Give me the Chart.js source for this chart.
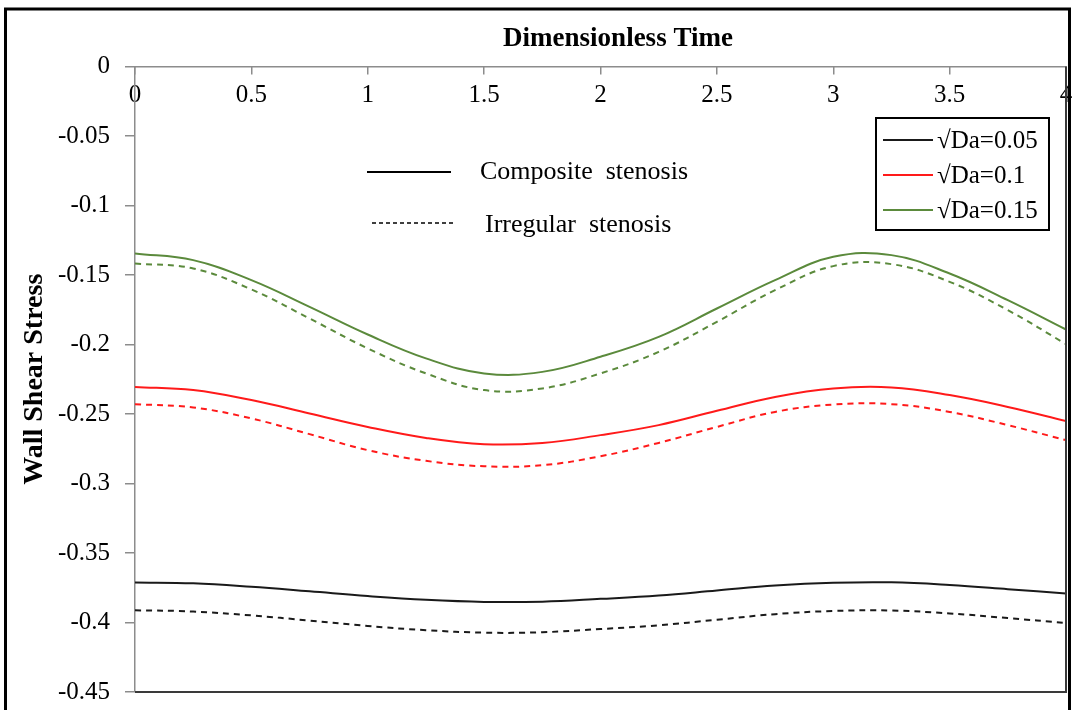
<!DOCTYPE html>
<html>
<head>
<meta charset="utf-8">
<script src="https://cdn.jsdelivr.net/npm/chart.js@4.4.1/dist/chart.umd.min.js"></script>
<style>
  html, body { margin: 0; padding: 0; background: #fff; }
  canvas { display: block; }
</style>
</head>
<body>
<canvas id="wssChart" width="1073" height="710"></canvas>
<script>
// dimensionless time samples
const timeValues = [0, 0.25, 0.5, 0.75, 1, 1.25, 1.5, 1.75, 2, 2.25, 2.5, 2.75, 3, 3.25, 3.5, 3.75, 4];

// wall shear stress, composite stenosis (solid)
const compositeDa005 = [-0.3712, -0.3718, -0.3743, -0.3776, -0.3810, -0.3837, -0.3852, -0.3850, -0.3830, -0.3806, -0.3770, -0.3734, -0.3714, -0.3711, -0.3730, -0.3760, -0.3792];
const compositeDa01  = [-0.2305, -0.2328, -0.2400, -0.2496, -0.2593, -0.2672, -0.2717, -0.2708, -0.2652, -0.2580, -0.2477, -0.2377, -0.2316, -0.2309, -0.2364, -0.2449, -0.2550];
const compositeDa015 = [-0.1345, -0.1393, -0.1537, -0.1729, -0.1928, -0.2100, -0.2208, -0.2197, -0.2088, -0.1945, -0.1741, -0.1537, -0.1369, -0.1357, -0.1489, -0.1681, -0.1892];

// wall shear stress, irregular stenosis (dashed)
const irregularDa005 = [-0.3912, -0.3921, -0.3949, -0.3986, -0.4025, -0.4055, -0.4073, -0.4070, -0.4047, -0.4020, -0.3980, -0.3940, -0.3917, -0.3914, -0.3935, -0.3968, -0.4003];
const irregularDa01  = [-0.2429, -0.2453, -0.2532, -0.2645, -0.2760, -0.2837, -0.2876, -0.2868, -0.2804, -0.2708, -0.2593, -0.2485, -0.2432, -0.2429, -0.2485, -0.2580, -0.2688];
const irregularDa015 = [-0.1417, -0.1453, -0.1604, -0.1813, -0.2028, -0.2208, -0.2328, -0.2316, -0.2208, -0.2053, -0.1837, -0.1609, -0.1436, -0.1422, -0.1549, -0.1753, -0.1997];

const seriesLabels = ['\u221ADa=0.05', '\u221ADa=0.1', '\u221ADa=0.15'];
const seriesColors = ['#1a1a1a', '#ff1a1a', '#5b8a3c'];
const xTickLabels = ['0', '0.5', '1', '1.5', '2', '2.5', '3', '3.5', '4'];
const yTickLabels = ['0', '-0.05', '-0.1', '-0.15', '-0.2', '-0.25', '-0.3', '-0.35', '-0.4', '-0.45'];

const SERIF = "'Liberation Serif', 'Times New Roman', serif";

const toPoints = ys => timeValues.map((t, i) => ({ x: t, y: ys[i] }));

function line(label, ys, color, dashed) {
    return {
        label: label,
        data: toPoints(ys),
        borderColor: color,
        borderWidth: 2,
        borderDash: dashed ? [6, 5] : [],
        pointRadius: 0,
        fill: false,
        tension: 0.4
    };
}

// frame, plot border, in-plot key and the legend box
const decorations = {
    id: 'decorations',
    afterDraw(chart) {
        const ctx = chart.ctx;
        const a = chart.chartArea;
        ctx.save();

        // outer frame
        ctx.strokeStyle = '#000';
        ctx.lineWidth = 3;
        ctx.strokeRect(5.5, 9, 1064, 720);

        // right and bottom edges of the plot
        ctx.strokeStyle = '#3a3a3a';
        ctx.lineWidth = 2;
        ctx.beginPath();
        ctx.moveTo(a.right, a.top);
        ctx.lineTo(a.right, a.bottom);
        ctx.lineTo(a.left, a.bottom);
        ctx.stroke();

        // x axis title
        ctx.fillStyle = '#000';
        ctx.font = 'bold 27px ' + SERIF;
        ctx.textAlign = 'center';
        ctx.textBaseline = 'middle';
        ctx.fillText('Dimensionless Time', 618, 39);

        // line style key
        ctx.font = '26px ' + SERIF;
        ctx.textAlign = 'left';
        ctx.strokeStyle = '#000';
        ctx.lineWidth = 2;
        ctx.beginPath();
        ctx.moveTo(367, 172);
        ctx.lineTo(451, 172);
        ctx.stroke();
        ctx.fillText('Composite  stenosis', 480, 172);
        ctx.lineWidth = 1.5;
        ctx.setLineDash([4, 3]);
        ctx.beginPath();
        ctx.moveTo(372, 223);
        ctx.lineTo(455, 223);
        ctx.stroke();
        ctx.setLineDash([]);
        ctx.fillText('Irregular  stenosis', 485, 225);

        // legend box
        ctx.font = '25px ' + SERIF;
        ctx.lineWidth = 2;
        ctx.strokeStyle = '#000';
        ctx.strokeRect(876, 118, 173, 112);
        const rows = [140, 175, 210];
        seriesLabels.forEach((lab, i) => {
            ctx.strokeStyle = seriesColors[i];
            ctx.lineWidth = 2;
            ctx.beginPath();
            ctx.moveTo(883, rows[i]);
            ctx.lineTo(933, rows[i]);
            ctx.stroke();
            ctx.fillStyle = '#000';
            ctx.fillText(lab, 937, rows[i] + 1);
        });
        ctx.restore();
    }
};

new Chart(document.getElementById('wssChart'), {
    type: 'line',
    data: {
        datasets: [
            line(seriesLabels[0], compositeDa005, seriesColors[0], false),
            line(seriesLabels[1], compositeDa01, seriesColors[1], false),
            line(seriesLabels[2], compositeDa015, seriesColors[2], false),
            line(seriesLabels[0], irregularDa005, seriesColors[0], true),
            line(seriesLabels[1], irregularDa01, seriesColors[1], true),
            line(seriesLabels[2], irregularDa015, seriesColors[2], true)
        ]
    },
    options: {
        responsive: false,
        animation: false,
        layout: { padding: { left: 0, top: 0, right: 7, bottom: 18 } },
        plugins: {
            legend: { display: false },
            tooltip: { enabled: false }
        },
        scales: {
            x: {
                type: 'linear',
                position: 'top',
                min: 0,
                max: 4,
                afterFit: s => {
                    s.height = 66.5;
                    s.paddingLeft = 0;
                    s.paddingRight = 0;
                },
                ticks: {
                    stepSize: 0.5,
                    mirror: true,
                    padding: 14,
                    color: '#000',
                    font: { family: SERIF, size: 25 },
                    callback: (v, i) => xTickLabels[i]
                },
                grid: { drawOnChartArea: false, tickLength: -8, color: '#8c8c8c', lineWidth: 1.5 },
                border: { color: '#8c8c8c', width: 1.5 }
            },
            y: {
                min: -0.45,
                max: 0,
                afterFit: s => {
                    s.width = 135;
                    s.paddingTop = 0;
                    s.paddingBottom = 0;
                },
                ticks: {
                    stepSize: 0.05,
                    padding: 15,
                    color: '#000',
                    font: { family: SERIF, size: 25 },
                    callback: (v, i, ticks) => yTickLabels[ticks.length - 1 - i]
                },
                grid: { drawOnChartArea: false, tickLength: 10, color: '#8c8c8c', lineWidth: 1.5 },
                border: { color: '#8c8c8c', width: 1.5 },
                title: {
                    display: true,
                    text: 'Wall Shear Stress',
                    color: '#000',
                    padding: { top: 18, bottom: 0 },
                    font: { family: SERIF, size: 28, weight: 'bold' }
                }
            }
        }
    },
    plugins: [decorations]
});
</script>
</body>
</html>
